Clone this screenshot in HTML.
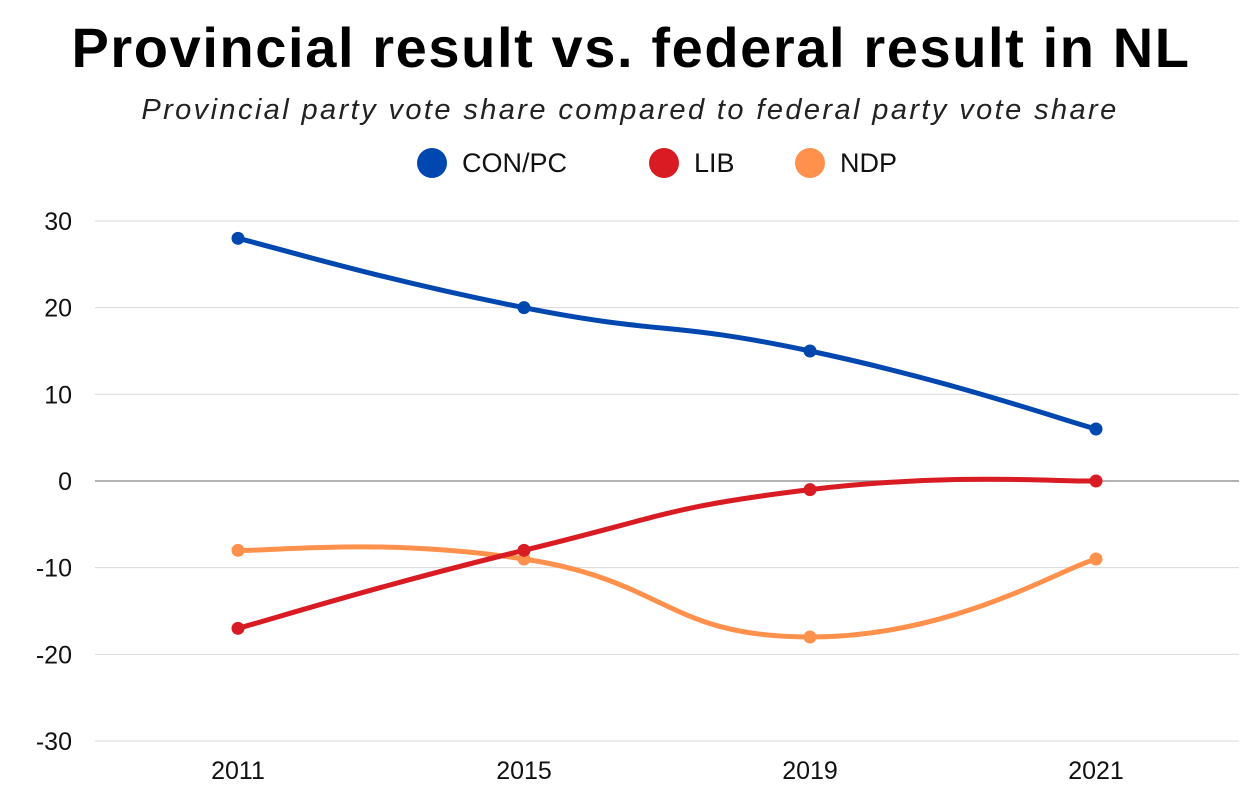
<!DOCTYPE html>
<html><head><meta charset="utf-8"><style>
body{margin:0;background:#fff;width:1260px;height:800px;overflow:hidden;font-family:"Liberation Sans",sans-serif}
</style></head><body>
<svg width="1260" height="800" id="c">
<text x="631" y="67" text-anchor="middle" font-size="56" font-weight="bold" letter-spacing="1.6" fill="#000">Provincial result vs. federal result in NL</text>
<text x="630" y="119" text-anchor="middle" font-size="29" font-style="italic" letter-spacing="2.4" fill="#222">Provincial party vote share compared to federal party vote share</text>
<g id="legend"></g>
<g id="grid"></g>
<g id="yaxis"></g>
<g id="xaxis"></g>
<g id="series"></g>
</svg>
<script>
const categories=["2011","2015","2019","2021"];
const seriesNames=["CON/PC","LIB","NDP"];
const seriesColors=["#0047b0","#d91b24","#ff914d"];
const conValues=[28,20,15,6];
const libValues=[-17,-8,-1,0];
const ndpValues=[-8,-9,-18,-9];
const yTicks=[30,20,10,0,-10,-20,-30];
const allSeries=[conValues,libValues,ndpValues];
const NS="http://www.w3.org/2000/svg";
const pLeft=95,pRight=1239,pTop=221,pBottom=741,yMin=-30,yMax=30;
const band=(pRight-pLeft)/categories.length;
function xs(i){return pLeft+band*(i+0.5);}
function ys(v){return pTop+(yMax-v)/(yMax-yMin)*(pBottom-pTop);}
function mk(t,a,p){const e=document.createElementNS(NS,t);for(const k in a)e.setAttribute(k,a[k]);p.appendChild(e);return e;}
const grid=document.getElementById('grid'),ya=document.getElementById('yaxis'),xa=document.getElementById('xaxis'),sg=document.getElementById('series'),lg=document.getElementById('legend');
yTicks.forEach(t=>{
 const l=mk('line',{x1:pLeft,x2:pRight,y1:ys(t),y2:ys(t),stroke:t===0?'#999':'#d9d9d9','stroke-width':t===0?1.5:1},grid);
 
 
 const tx=mk('text',{x:72,y:ys(t)+9,'text-anchor':'end','font-size':25,fill:'#111'},ya);
 tx.textContent=t;
 
 
});
categories.forEach((c,i)=>{
 const tx=mk('text',{x:xs(i),y:779,'text-anchor':'middle','font-size':25,fill:'#111'},xa);
 tx.textContent=c;
 
 
});
function smooth(pts){
 let d=`M${pts[0][0]},${pts[0][1]}`;
 const t=0.25;
 for(let i=0;i<pts.length-1;i++){
  const p0=pts[i-1]||pts[i],p1=pts[i],p2=pts[i+1],p3=pts[i+2]||p2;
  const f1=i===0?2:1,f2=i===pts.length-2?2:1;
  const c1=[p1[0]+(p2[0]-p0[0])*t/f1,p1[1]+(p2[1]-p0[1])*t/f1];
  const c2=[p2[0]-(p3[0]-p1[0])*t/f2,p2[1]-(p3[1]-p1[1])*t/f2];
  d+=` C${c1[0]},${c1[1]} ${c2[0]},${c2[1]} ${p2[0]},${p2[1]}`;
 }
 return d;
}
[2,1,0].forEach(s=>{
 const vals=allSeries[s];
 const pts=vals.map((v,i)=>[xs(i),ys(v)]);
 const p=mk('path',{d:smooth(pts),fill:'none',stroke:seriesColors[s],'stroke-width':5,'stroke-linecap':'round'},sg);
 
 
 pts.forEach(q=>{
  const c=mk('circle',{cx:q[0],cy:q[1],r:6.5,fill:seriesColors[s]},sg);
  
  
 });
});
const legX=[432,664,810];
seriesNames.forEach((n,i)=>{
 const c=mk('circle',{cx:legX[i],cy:163,r:15,fill:seriesColors[i]},lg);
 
 
 const tx=mk('text',{x:legX[i]+30,y:172,'font-size':27,fill:'#111'},lg);
 tx.textContent=n;
 
 
});
</script>
</body></html>
